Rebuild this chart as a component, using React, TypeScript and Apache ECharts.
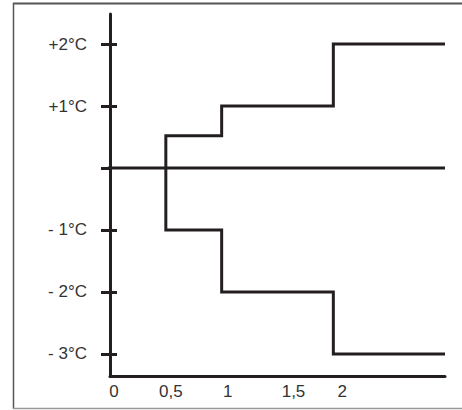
import React, { useEffect, useRef } from "react";
import * as echarts from "echarts";

const yTickValues = [-3, -2, -1, 1, 2];
const yTickLabels = ["- 3°C", "- 2°C", "- 1°C", "+1°C", "+2°C"];
const xTickValues = [0, 0.5, 1, 1.5, 2];
const xTickLabels = ["0", "0,5", "1", "1,5", "2"];

const zeroLine: [number, number][] = [[-0.08, 0], [3, 0]];
const upperStep: [number, number][] = [[0.5, 0], [0.5, 0.52], [1, 0.52], [1, 1], [2, 1], [2, 2], [3, 2]];
const lowerStep: [number, number][] = [[0.5, 0], [0.5, -1], [1, -1], [1, -2], [2, -2], [2, -3], [3, -3]];

const INK = "#231f20";
const TEXT = "#333333";
const FONT = "Liberation Sans";

export default function App() {
  const ref = useRef<HTMLDivElement>(null);
  useEffect(() => {
    if (!ref.current) return;
    const chart = echarts.init(ref.current, undefined, { renderer: "svg" });
    const xShift = ["s0", "s1", "s2", "s3", "s4"];
    const rich: any = {};
    const shifts = [8, 10, 12, 32, 18];
    shifts.forEach((p, i) => {
      rich[xShift[i]] = { padding: [0, 0, 0, p], fontSize: 17, color: TEXT, fontFamily: FONT };
    });
    const yMin = -3.355;
    const yMax = 2.484;
    chart.setOption({
      animation: false,
      backgroundColor: "#ffffff",
      grid: { left: 110, right: 17, top: 14, bottom: 34, containLabel: false },
      xAxis: {
        type: "value",
        min: 0,
        max: 3,
        axisLine: { show: true, onZero: false, lineStyle: { color: INK, width: 3 } },
        axisTick: { show: false },
        splitLine: { show: false },
        axisLabel: {
          customValues: xTickValues,
          margin: 7,
          formatter: (v: number) => {
            const i = xTickValues.findIndex((t) => Math.abs(t - v) < 1e-6);
            return i < 0 ? "" : `{${xShift[i]}|${xTickLabels[i]}}`;
          },
          rich,
        },
      },
      yAxis: [
        {
          type: "value",
          min: yMin,
          max: yMax,
          axisLine: { show: true, onZero: false, lineStyle: { color: INK, width: 3 } },
          axisTick: {
            show: true,
            customValues: [...yTickValues, 0],
            length: 9,
            lineStyle: { color: INK, width: 3 },
          },
          splitLine: { show: false },
          axisLabel: {
            customValues: yTickValues,
            margin: 23,
            fontSize: 17,
            color: TEXT,
            fontFamily: FONT,
            formatter: (v: number) => {
              const i = yTickValues.findIndex((t) => Math.abs(t - v) < 1e-6);
              return i < 0 ? "" : yTickLabels[i];
            },
          },
        },
        {
          type: "value",
          min: yMin,
          max: yMax,
          position: "left",
          axisLine: { show: false },
          axisTick: {
            show: true,
            inside: true,
            customValues: yTickValues,
            length: 7,
            lineStyle: { color: INK, width: 3 },
          },
          splitLine: { show: false },
          axisLabel: { show: false },
        },
      ],
      series: [
        {
          type: "line",
          data: zeroLine,
          symbol: "none",
          lineStyle: { color: INK, width: 3 },
          clip: false,
        },
        {
          type: "line",
          data: upperStep,
          symbol: "none",
          lineStyle: { color: INK, width: 3, join: "miter" },
        },
        {
          type: "line",
          data: lowerStep,
          symbol: "none",
          lineStyle: { color: INK, width: 3, join: "miter" },
        },
      ],
      graphic: [
        { type: "line", shape: { x1: 13, y1: 3.5, x2: 462, y2: 3.5 }, style: { stroke: "#555555", lineWidth: 2 } },
        { type: "line", shape: { x1: 13.5, y1: 3, x2: 13.5, y2: 409 }, style: { stroke: "#555555", lineWidth: 1.5 } },
        { type: "line", shape: { x1: 13, y1: 408.5, x2: 462, y2: 408.5 }, style: { stroke: "#999999", lineWidth: 1.5 } },
      ],
    });
    return () => chart.dispose();
  }, []);
  return (
    <div
      ref={ref}
      style={{ position: "fixed", left: 0, top: 0, width: 462, height: 410 }}
    />
  );
}
